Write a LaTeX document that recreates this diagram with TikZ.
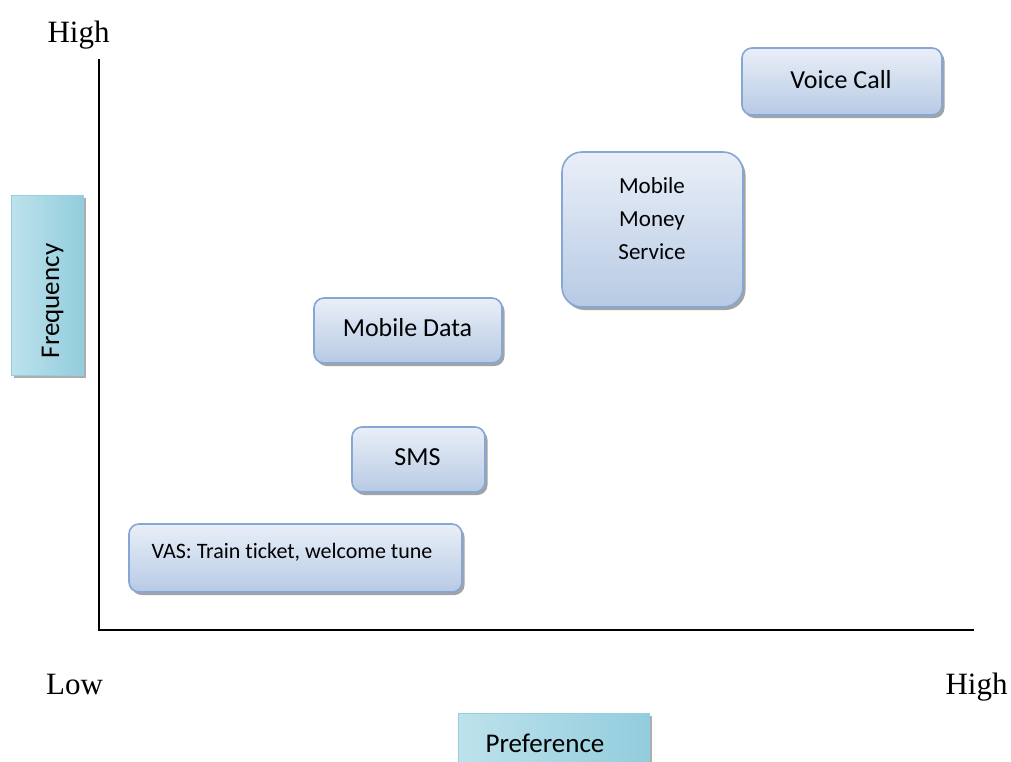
\documentclass[tikz,border=0pt]{standalone}
\usepackage{fontspec}
\setmainfont{Liberation Serif}
\newfontfamily\calib[Ligatures=NoCommon]{Carlito}
\usetikzlibrary{shadows}
\definecolor{boxtop}{HTML}{E9EFF8}
\definecolor{boxbot}{HTML}{B7CAE4}
\definecolor{boxline}{HTML}{86A6D4}
\definecolor{tealL}{HTML}{BDE2EC}
\definecolor{tealM}{HTML}{E4F3F7}
\definecolor{tealR}{HTML}{93CDDD}
\definecolor{tealline}{HTML}{95CEDD}
\tikzset{
  pbox/.style={draw=boxline, line width=1.6pt, rounded corners=10pt,
    top color=boxtop, bottom color=boxbot, inner sep=0pt,
    drop shadow={shadow xshift=2.5pt, shadow yshift=-3pt, fill=black!45, opacity=0.8}},
  tbox/.style={draw=tealline, line width=0.8pt, inner sep=0pt,
    left color=tealL, middle color=tealM, right color=tealR,
    drop shadow={shadow xshift=3pt, shadow yshift=-3pt, fill=black!40, opacity=0.8}},
  ptxt/.style={font=\calib\fontsize{26}{31}\selectfont, inner sep=0pt, anchor=base},
  axlab/.style={font=\fontsize{31}{36}\selectfont, inner sep=0pt, anchor=base},
}
\begin{document}
\begin{tikzpicture}[x=1pt, y=-1pt]
\useasboundingbox (0,0) rectangle (1011,761);
\clip (0,0) rectangle (1011,761);
% axes
\coordinate (ytop) at (99,59);
\coordinate (orig) at (99,629.5);
\coordinate (xend) at (974,629.5);
\draw[line width=2pt] (ytop) -- (orig) -- (xend);
% axis labels
\node[axlab] (hightop) at (78.5,42) {High};
\node[axlab] (low) at (74.5,694) {Low};
\node[axlab] (highright) at (976.5,694) {High};
% frequency box
\node[tbox, minimum width=72pt, minimum height=180pt] (freqbox) at (47,285) {};
\node[ptxt, font=\calib\fontsize{27}{31}\selectfont, rotate=90] (freq) at (59,301) {Frequency};
% preference box
\node[tbox, minimum width=191pt, minimum height=70pt] (prefbox) at (553.5,748) {};
\node[ptxt, font=\calib\fontsize{27}{31}\selectfont] (pref) at (545,752) {Preference};
% boxes
\node[pbox, minimum width=200pt, minimum height=67pt] (voicebox) at (842,81.5) {};
\node[ptxt] (voice) at (841,88) {Voice Call};
\node[pbox, rounded corners=20pt, minimum width=181pt, minimum height=155pt] (mmsbox) at (652.5,229.5) {};
\node[font=\calib\fontsize{23}{33}\selectfont, align=center, inner sep=0pt, anchor=base] (mms) at (652,259) {Mobile\\Money\\Service};
\node[pbox, minimum width=188pt, minimum height=65pt] (databox) at (408,330.5) {};
\node[ptxt] (data) at (407.5,336) {Mobile Data};
\node[pbox, minimum width=133pt, minimum height=65pt] (smsbox) at (418.5,459.5) {};
\node[ptxt] (sms) at (417.5,465) {SMS};
\node[pbox, minimum width=333pt, minimum height=68pt] (vasbox) at (295.5,558) {};
\node[ptxt, font=\calib\fontsize{22}{26}\selectfont] (vas) at (292,558) {VAS: Train ticket, welcome tune};
\end{tikzpicture}
\end{document}
